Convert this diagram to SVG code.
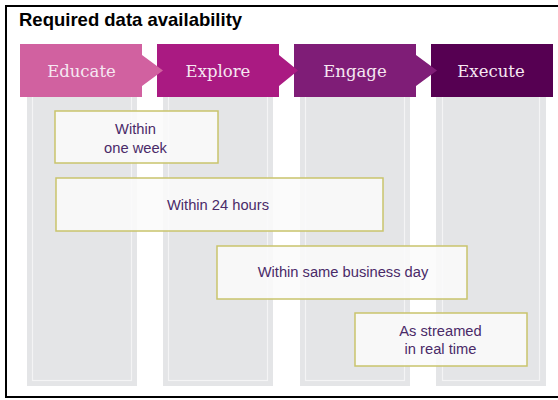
<svg xmlns="http://www.w3.org/2000/svg" width="558" height="400" viewBox="0 0 558 400">
  <style>
    .col{fill:#e4e5e7}
    .colin{fill:none;stroke:#f4f4f5;stroke-width:1.2}
    .phase{font-family:"DejaVu Serif","Liberation Serif",serif;font-size:16.5px;fill:#f6e8f2;text-anchor:middle}
    .box{fill:#fbfbfb;fill-opacity:0.88;stroke:#c9c46c;stroke-width:1.5}
    .lbl{font-family:"Liberation Sans",Arial,sans-serif;font-size:14.7px;fill:#4a2a68;text-anchor:middle}
    .title{font-family:"Liberation Sans",Arial,sans-serif;font-size:18.5px;font-weight:bold;fill:#000}
  </style>
  <rect x="0" y="0" width="558" height="400" fill="#fff"/>
  <rect x="6" y="6" width="560" height="391" fill="none" stroke="#000" stroke-width="2"/>
  <text class="title" x="19" y="26">Required data availability</text>

  <g id="columns">
    <rect class="col" x="27" y="90" width="110" height="296"/>
    <rect class="colin" x="32.5" y="90" width="99" height="290.5"/>
    <rect class="col" x="163" y="90" width="110" height="296"/>
    <rect class="colin" x="168.5" y="90" width="99" height="290.5"/>
    <rect class="col" x="300" y="90" width="110" height="296"/>
    <rect class="colin" x="305.5" y="90" width="99" height="290.5"/>
    <rect class="col" x="436" y="90" width="110" height="296"/>
    <rect class="colin" x="442.5" y="90" width="97" height="290.5"/>
  </g>

  <g id="execute">
    <polygon points="431,44 553,44 553,97 431,97" fill="#560052"/>
    <text class="phase" x="491" y="77">Execute</text>
  </g>
  <g id="engage">
    <polygon points="294,44 416,44 416,55 437,70.5 416,86 416,97 294,97" fill="#7f1d77"/>
    <text class="phase" x="355" y="77">Engage</text>
  </g>
  <g id="explore">
    <polygon points="157,44 279,44 279,55 298,70.5 279,86 279,97 157,97" fill="#aa1a82"/>
    <text class="phase" x="218" y="77">Explore</text>
  </g>
  <g id="educate">
    <polygon points="20,44 142,44 142,55 163,70.5 142,86 142,97 20,97" fill="#d161a0"/>
    <text class="phase" x="81.5" y="77">Educate</text>
  </g>

  <g id="connectors"/>

  <g id="within-one-week">
    <rect class="box" x="55" y="111" width="163" height="52"/>
    <text class="lbl" x="135.5" y="134">Within</text>
    <text class="lbl" x="135.5" y="152.5">one week</text>
  </g>
  <g id="within-24-hours">
    <rect class="box" x="56" y="178" width="327" height="53"/>
    <text class="lbl" x="218" y="210">Within 24 hours</text>
  </g>
  <g id="within-same-business-day">
    <rect class="box" x="217" y="246" width="250" height="53"/>
    <text class="lbl" x="343" y="277">Within same business day</text>
  </g>
  <g id="as-streamed">
    <rect class="box" x="355" y="313" width="172" height="53"/>
    <text class="lbl" x="440.5" y="336">As streamed</text>
    <text class="lbl" x="440.5" y="353.5">in real time</text>
  </g>
</svg>
